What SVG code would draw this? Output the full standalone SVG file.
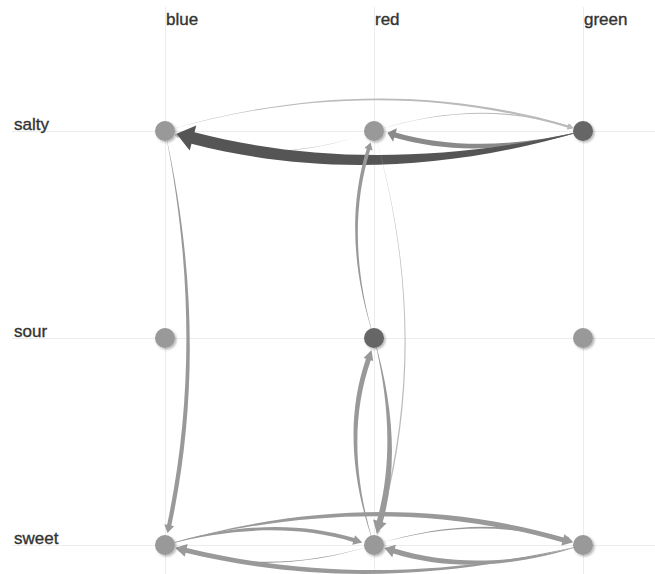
<svg xmlns="http://www.w3.org/2000/svg" width="655" height="574" viewBox="0 0 655 574">
<style>
.grid{stroke:#ececec;stroke-width:1;fill:none}
.lbl{font-family:"Liberation Sans",Arial,sans-serif;font-size:17px;fill:#333;stroke:#333;stroke-width:0.35}
.n-light{fill:#999}
.n-dark{fill:#666}
.e-dark{fill:#555}
.e-mid{fill:#8a8a8a}
.e-med{fill:#999}
.e-light{fill:#bbb}
</style>
<defs>
<filter id="sh" x="-50%" y="-50%" width="200%" height="200%">
<feDropShadow dx="1.5" dy="1.5" stdDeviation="1" flood-color="#000" flood-opacity="0.3"/>
</filter>
</defs>
<rect width="655" height="574" fill="#fff"/>
<g id="grid">
<line class="grid" x1="165.5" y1="7" x2="165.5" y2="574"/>
<line class="grid" x1="374.5" y1="7" x2="374.5" y2="574"/>
<line class="grid" x1="583.5" y1="7" x2="583.5" y2="574"/>
<line class="grid" x1="12" y1="131.5" x2="655" y2="131.5"/>
<line class="grid" x1="12" y1="338.5" x2="655" y2="338.5"/>
<line class="grid" x1="12" y1="545.5" x2="655" y2="545.5"/>
</g>
<g id="labels">
<text class="lbl" x="166" y="25">blue</text>
<text class="lbl" x="375" y="25">red</text>
<text class="lbl" x="584" y="25">green</text>
<text class="lbl" x="14" y="130">salty</text>
<text class="lbl" x="14" y="337">sour</text>
<text class="lbl" x="14" y="544">sweet</text>
</g>
<g id="connectors">
<path id="e-blue-green-salty" class="e-light" d="M 165,131 C 304.3,89.6 438.5,87.6 567.9,125.5 L 568.4,123.6 L 573.4,128.2 L 566.8,129.4 L 567.3,127.5 C 438.5,90 304.3,91 165,131 Z"/>
<path id="e-red-green-salty" class="e-light" d="M 374,131 C 443.3,108.6 508.2,106.75 568.9,125.8 L 569.6,123.6 L 573.5,128 L 567.8,129.4 L 568.5,127.2 C 508.2,108.25 443.3,109.4 374,131 Z"/>
<path id="e-red-blue-salty" class="e-light" d="M 374,131 C 304.7,156 239.7,157.4 179.3,135.5 L 180,133.75 L 174.4,134.4 L 178.2,138.45 L 178.9,136.7 C 239.7,158.6 304.7,156.6 374,131 Z"/>
<path id="e-green-red-salty" class="e-mid" d="M 583,131 C 513,147.2 450.3,148.25 395.8,132.4 L 396.9,128.3 L 387.3,132.8 L 393.1,141.7 L 394.2,137.6 C 450.3,153.75 513,152.2 583,131 Z"/>
<path id="e-green-blue-salty" class="e-dark" d="M 583,131 C 443.7,162 313.7,163.3 194.5,132.2 L 196.3,125.4 L 176.5,133.7 L 189.7,150.6 L 191.5,143.8 C 313.7,175.3 443.7,172 583,131 Z"/>
<path id="e-blue-salty-sweet" class="e-med" d="M 165,131 C 195.8,269 197.9,400.4 171.3,525.6 L 174.1,526.2 L 167.5,533 L 164.3,524.2 L 167.1,524.8 C 193.5,400.4 192.8,269 165,131 Z"/>
<path id="e-red-sour-salty" class="e-med" d="M 374,338 C 353.7,269 352.6,206.7 370.2,149.7 L 372.6,150.5 L 370.6,142.5 L 364.4,147.9 L 366.8,148.7 C 349,206.7 351.7,269 374,338 Z"/>
<path id="e-red-salty-sweet" class="e-light" d="M 374,131 C 414.4,269 416.15,402 379,530.3 L 380.7,530.8 L 376.9,534.9 L 375.9,529.4 L 377.6,529.9 C 414.65,402 413.6,269 374,131 Z"/>
<path id="e-red-sweet-sour" class="e-med" d="M 374,545 C 352.8,476 352,414.2 370.8,360.3 L 373.2,361.1 L 371.5,350 L 363.6,357.9 L 366,358.7 C 347,414.2 349.8,476 374,545 Z"/>
<path id="e-red-sour-sweet" class="e-med" d="M 374,338 C 394.4,407 397.6,468.1 382.7,522.2 L 386.6,523.2 L 376.7,533 L 373,519.6 L 376.9,520.6 C 391.6,468.1 391,407 374,338 Z"/>
<path id="e-blue-red-sweet" class="e-med" d="M 165,545 C 235,523.2 297.9,521.3 354.3,538.1 L 355.1,535.2 L 362.3,542.5 L 352.3,544.8 L 353.1,541.9 C 297.9,525.3 235,526.8 165,545 Z"/>
<path id="e-blue-green-sweet" class="e-med" d="M 165,545 C 304.3,503.7 436.9,501.4 563.6,537.4 L 564.5,534 L 572.5,542.5 L 561.3,545.6 L 562.2,542.2 C 436.9,506.4 304.3,507.7 165,545 Z"/>
<path id="e-red-green-sweet" class="e-med" d="M 374,545 C 443.3,523 507.3,520.75 566.7,538.7 L 567.5,536.1 L 573,541.9 L 565.1,543.7 L 565.9,541.1 C 507.3,523.25 443.3,524.4 374,545 Z"/>
<path id="e-green-red-sweet" class="e-med" d="M 583,545 C 513,564.5 450,565.8 394.8,548.6 L 396,544.8 L 384.5,548.1 L 392.2,557.2 L 393.4,553.4 C 450,570.8 513,568.1 583,545 Z"/>
<path id="e-red-blue-sweet" class="e-med" d="M 374,545 C 304.7,565.9 240.4,567.25 181.4,549.2 L 182.1,547 L 175.5,548.1 L 180.3,552.8 L 181,550.6 C 240.4,568.75 304.7,566.7 374,545 Z"/>
<path id="e-green-blue-sweet" class="e-med" d="M 583,545 C 443.7,577.2 311.4,578.3 186.8,548 L 187.7,544.1 L 175.5,547.8 L 184.7,556.7 L 185.6,552.8 C 311.4,583.3 443.7,580.8 583,545 Z"/>
</g>
<g id="node-blue-salty" filter="url(#sh)"><circle class="n-light" cx="165" cy="131" r="10"/></g>
<g id="node-red-salty" filter="url(#sh)"><circle class="n-light" cx="374" cy="131" r="10"/></g>
<g id="node-green-salty" filter="url(#sh)"><circle class="n-dark" cx="583" cy="131" r="10"/></g>
<g id="node-blue-sour" filter="url(#sh)"><circle class="n-light" cx="165" cy="338" r="10"/></g>
<g id="node-red-sour" filter="url(#sh)"><circle class="n-dark" cx="374" cy="338" r="10"/></g>
<g id="node-green-sour" filter="url(#sh)"><circle class="n-light" cx="583" cy="338" r="10"/></g>
<g id="node-blue-sweet" filter="url(#sh)"><circle class="n-light" cx="165" cy="545" r="10"/></g>
<g id="node-red-sweet" filter="url(#sh)"><circle class="n-light" cx="374" cy="545" r="10"/></g>
<g id="node-green-sweet" filter="url(#sh)"><circle class="n-light" cx="583" cy="545" r="10"/></g>
</svg>
